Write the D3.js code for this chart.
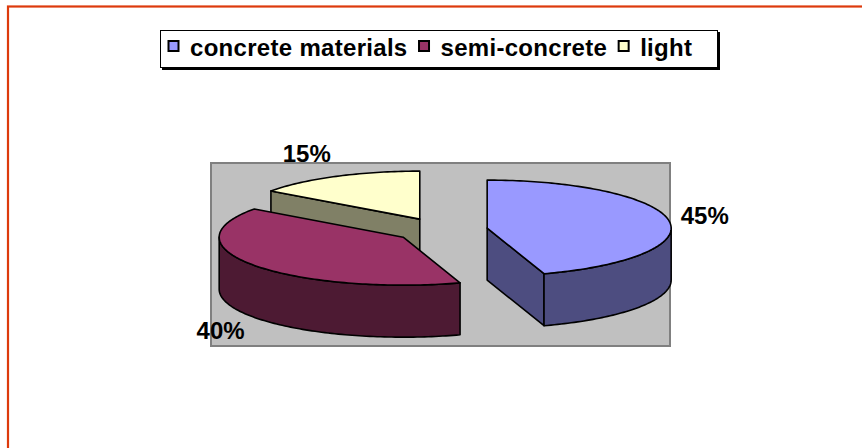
<!DOCTYPE html>
<html>
<head>
<meta charset="utf-8">
<script src="https://cdn.jsdelivr.net/npm/d3@7"></script>
<style>
body { margin: 0; background: #fff; }
svg { display: block; font-family: "Liberation Sans", Arial, sans-serif; font-weight: bold; }
</style>
</head>
<body>
<svg id="chart" width="862" height="448"></svg>
<script>
const categories = ["concrete materials", "semi-concrete", "light"];
const values = [45, 40, 15];
const labels = ["45%", "40%", "15%"];
const colors = ["#9999ff", "#993366", "#ffffcc"];

const width = 862, height = 448;
const svg = d3.select("#chart");

const color = d3.scaleOrdinal(categories, colors);
// side faces are the top colour at half brightness
const shade = c => { const r = d3.rgb(c); return d3.rgb(r.r * 0.5, r.g * 0.5, r.b * 0.5).formatHex(); };

// outer frame
svg.append("rect")
    .attr("x", 8).attr("y", 6.5)
    .attr("width", width).attr("height", height)
    .attr("fill", "none")
    .attr("stroke", "#dd3a0c")
    .attr("stroke-width", 2.2);

// plot area
svg.append("rect")
    .attr("x", 211).attr("y", 163)
    .attr("width", 459).attr("height", 183)
    .attr("fill", "#c0c0c0")
    .attr("stroke", "#808080")
    .attr("stroke-width", 2);

// 3d pie geometry
const cx = 441, cy = 230, rx = 184, ry = 48, depth = 52, explode = 0.254;

const pie = d3.pie().sort(null).value(d => d);
const arcs = pie(values).map((a, i) => {
    const mid = (a.startAngle + a.endAngle) / 2;
    return {
        ...a, i, mid,
        c: [cx + explode * rx * Math.sin(mid), cy - explode * ry * Math.cos(mid)]
    };
});

const pt = (c, t, dy = 0) => [c[0] + rx * Math.sin(t), c[1] - ry * Math.cos(t) + dy];
const arcPts = (c, t0, t1, dy = 0) => {
    const n = Math.max(2, Math.ceil(Math.abs(t1 - t0) / 0.02));
    return d3.range(n + 1).map(k => pt(c, t0 + (t1 - t0) * k / n, dy));
};
const line = d3.line();
const poly = pts => line(pts) + "Z";

const g = svg.append("g")
    .attr("stroke", "#000")
    .attr("stroke-width", 1.6)
    .attr("stroke-linejoin", "round");

// back slices first
arcs.slice().sort((a, b) => a.c[1] - b.c[1]).forEach(a => {
    const c = a.c, top = color(categories[a.i]), side = shade(top);
    const sg = g.append("g");
    const cb = [c[0], c[1] + depth];

    if (Math.sin(a.startAngle) < -1e-6) {
        sg.append("path").attr("fill", side)
            .attr("d", poly([c, pt(c, a.startAngle), pt(c, a.startAngle, depth), cb]));
    }
    if (Math.sin(a.endAngle) > 1e-6) {
        sg.append("path").attr("fill", side)
            .attr("d", poly([c, pt(c, a.endAngle), pt(c, a.endAngle, depth), cb]));
    }
    const r0 = Math.max(a.startAngle, Math.PI / 2), r1 = Math.min(a.endAngle, Math.PI * 1.5);
    if (r1 > r0) {
        sg.append("path").attr("fill", side)
            .attr("d", poly(arcPts(c, r0, r1).concat(arcPts(c, r1, r0, depth))));
    }
    sg.append("path").attr("fill", top)
        .attr("d", poly([c].concat(arcPts(c, a.startAngle, a.endAngle))));
});

// percentage labels outside the rim
const fs = 24, gap = 12;
arcs.forEach(a => {
    const dx = Math.sin(a.mid), dy = -Math.cos(a.mid);
    const p = pt(a.c, a.mid, dy > 0 ? depth : 0);
    const x = p[0] + dx * gap;
    let y = p[1] + dy * gap;
    if (dy < -0.3) y = y - 4;
    else if (dy > 0.3) y = y - 3 + fs * 0.716;
    else y = y - 3 + fs * 0.716 / 2;
    svg.append("text")
        .attr("x", x).attr("y", y)
        .attr("text-anchor", dx > 0.3 ? "start" : dx < -0.3 ? "end" : "middle")
        .attr("font-size", fs)
        .attr("fill", "#000")
        .text(labels[a.i]);
});

// legend
const leg = svg.append("g");
leg.append("rect")
    .attr("x", 162).attr("y", 32)
    .attr("width", 558).attr("height", 38)
    .attr("fill", "#000");
leg.append("rect")
    .attr("x", 160.5).attr("y", 30.5)
    .attr("width", 557).attr("height", 37)
    .attr("fill", "#fff")
    .attr("stroke", "#000")
    .attr("stroke-width", 1);

let lx = 168;
categories.forEach((cat, i) => {
    leg.append("rect")
        .attr("x", lx + 0.5).attr("y", 41)
        .attr("width", 10).attr("height", 10)
        .attr("fill", color(cat))
        .attr("stroke", "#000")
        .attr("stroke-width", 2);
    const t = leg.append("text")
        .attr("x", lx + 22).attr("y", 55.5)
        .attr("font-size", 24)
        .attr("letter-spacing", 0.3)
        .attr("fill", "#000")
        .text(cat);
    lx += 22 + t.node().getComputedTextLength() + 11;
});
</script>
</body>
</html>
